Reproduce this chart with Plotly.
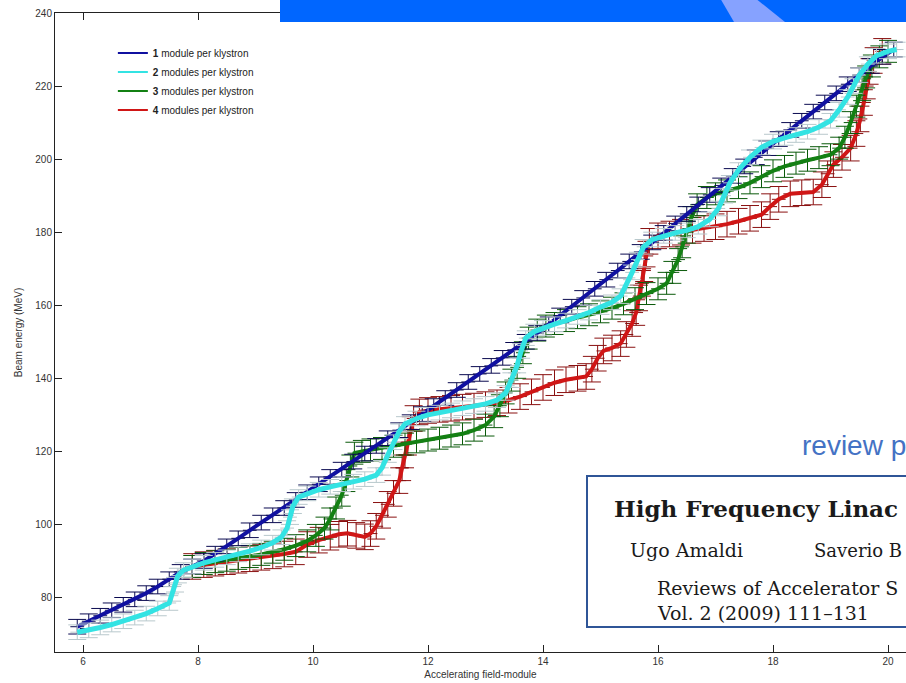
import plotly.graph_objects as go

# ---------------- data ----------------
x_1mod = [5.9, 6.1, 6.3, 6.5, 6.7, 6.9, 7.1, 7.3, 7.5, 7.7, 7.9, 8.1, 8.3, 8.5, 8.7, 8.9,
          9.1, 9.3, 9.5, 9.7, 9.9, 10.1, 10.3, 10.5, 10.7, 10.9, 11.1, 11.3, 11.5, 11.7,
          11.9, 12.1, 12.3, 12.5, 12.7, 12.9, 13.1, 13.3, 13.5, 13.7, 13.9, 14.1, 14.3,
          14.5, 14.7, 14.9, 15.1, 15.3, 15.5, 15.7, 15.9, 16.1, 16.3, 16.5, 16.7, 16.9,
          17.1, 17.3, 17.5, 17.7, 17.9, 18.1, 18.3, 18.5, 18.7, 18.9, 19.1, 19.3, 19.5,
          19.7, 19.9, 20.1]
y_1mod = [72, 73.5, 75, 76.5, 78, 79.5, 81.2, 83, 85, 87, 88.5, 90, 92, 94, 96.2, 98.4,
          100.5, 102.5, 104.5, 106.7, 108.8, 111, 113, 115, 117.2, 119.4, 121.5, 123.6,
          125.8, 128, 130.2, 132.4, 134.6, 136.8, 139, 141.2, 143.4, 145.6, 147.8, 150,
          152.4, 154.8, 157.2, 159.6, 162, 164.5, 167, 169.5, 172, 174.6, 177.2, 179.8,
          182.4, 185, 187.6, 190.2, 192.8, 195.4, 198, 200.5, 203, 205.5, 208, 210.5,
          213, 215.5, 218, 220.5, 223, 225.5, 228, 230]

x_2mod = [5.9, 6.1, 6.3, 6.5, 6.7, 6.9, 7.1, 7.3, 7.5, 7.55, 7.6, 7.65, 7.75, 7.9, 8.1,
          8.3, 8.5, 8.7, 8.9, 9.1, 9.3, 9.45, 9.55, 9.6, 9.65, 9.75, 9.9, 10.1, 10.3,
          10.5, 10.7, 10.9, 11.1, 11.2, 11.3, 11.4, 11.5, 11.6, 11.8, 12.0, 12.2, 12.4,
          12.6, 12.8, 13.0, 13.2, 13.35, 13.45, 13.55, 13.62, 13.7, 13.85, 14.0, 14.2,
          14.4, 14.6, 14.8, 15.0, 15.2, 15.35, 15.45, 15.55, 15.65, 15.75, 15.9, 16.1,
          16.3, 16.5, 16.7, 16.9, 17.05, 17.15, 17.25, 17.4, 17.6, 17.8, 18.0, 18.2,
          18.4, 18.6, 18.8, 19.0, 19.15, 19.3, 19.4, 19.5, 19.65, 19.8, 20.0, 20.15]
y_2mod = [70.5, 71, 71.8, 72.6, 73.5, 74.5, 75.6, 77, 78.5, 81, 83.5, 86, 87.5, 88.5,
          89.5, 90.3, 91, 91.8, 92.7, 93.7, 95, 96.5, 99, 102, 105, 107.5, 108.5, 109.5,
          110.3, 111, 111.7, 112.4, 113.5, 115.5, 119, 122.5, 125.5, 127.5, 129, 130,
          130.6, 131.2, 131.8, 132.4, 133, 134, 136, 139.5, 143.5, 147.5, 151, 152.8,
          153.8, 154.8, 155.8, 156.8, 158, 159.5, 160.8, 162.5, 165.5, 169, 172.5, 176,
          178, 179, 179.8, 180.5, 181.5, 183.5, 186.5, 190, 193.5, 197, 200.5, 203.2,
          204.8, 205.8, 206.6, 207.5, 208.8, 210.5, 213.5, 217, 220, 223, 226, 228.3,
          229.5, 230]

x_3mod = [7.9, 8.1, 8.3, 8.5, 8.7, 8.9, 9.1, 9.3, 9.5, 9.7, 9.9, 10.05, 10.2, 10.3, 10.4,
          10.5, 10.58, 10.65, 10.72, 10.85, 11.0, 11.2, 11.4, 11.6, 11.8, 12.0, 12.2,
          12.4, 12.6, 12.8, 13.0, 13.15, 13.25, 13.35, 13.45, 13.55, 13.65, 13.75, 13.9,
          14.05, 14.2, 14.4, 14.6, 14.8, 15.0, 15.2, 15.4, 15.6, 15.8, 16.0, 16.15,
          16.25, 16.35, 16.42, 16.5, 16.58, 16.68, 16.85, 17.0, 17.2, 17.4, 17.6, 17.8,
          18.0, 18.2, 18.4, 18.6, 18.8, 19.0, 19.15, 19.25, 19.35, 19.45, 19.55, 19.62,
          19.72, 19.85, 20.0]
y_3mod = [88.5, 89.3, 89.8, 90.2, 90.7, 91.2, 91.8, 92.4, 93.2, 94.2, 95.5, 97, 99,
          101.5, 104.5, 108, 112, 116, 119.5, 120, 120.4, 120.8, 121.4, 122, 122.6,
          123.1, 123.6, 124.2, 124.8, 125.8, 127.2, 129.5, 132.5, 136, 139.5, 143, 147,
          151, 153.2, 154.3, 155, 155.8, 156.6, 157.4, 158.2, 159.2, 160.4, 161.8, 163.2,
          164.5, 166, 169, 172.5, 176, 180, 184, 187.5, 189.5, 190.5, 191.3, 192.2,
          193.5, 195.2, 196.8, 198, 198.9, 199.7, 200.4, 201.2, 203, 206, 210, 214.5,
          219, 222.5, 225.5, 228, 229.5]

x_4mod = [7.9, 8.1, 8.3, 8.5, 8.7, 8.9, 9.1, 9.3, 9.5, 9.7, 9.9, 10.1, 10.3, 10.45, 10.6,
          10.75, 10.9, 11.0, 11.1, 11.2, 11.3, 11.4, 11.5, 11.55, 11.6, 11.65, 11.7,
          11.75, 11.85, 12.0, 12.2, 12.4, 12.6, 12.8, 13.0, 13.2, 13.4, 13.6, 13.8, 14.0,
          14.2, 14.4, 14.6, 14.75, 14.85, 14.95, 15.05, 15.2, 15.35, 15.45, 15.55, 15.62,
          15.67, 15.72, 15.76, 15.8, 15.85, 16.0, 16.2, 16.4, 16.6, 16.8, 17.0, 17.2,
          17.4, 17.6, 17.8, 17.95, 18.1, 18.3, 18.5, 18.7, 18.85, 18.95, 19.05, 19.2,
          19.35, 19.45, 19.52, 19.58, 19.63, 19.68, 19.75, 19.9]
y_4mod = [88.5, 89, 89.4, 89.8, 90.2, 90.6, 91, 91.4, 91.9, 92.5, 94.5, 95.7, 96.5,
          97.3, 97.6, 97, 96.6, 97.5, 99.5, 102.5, 105.5, 108.5, 112, 115.5, 119, 122.5,
          126, 129, 130.8, 131.2, 131.5, 131.8, 132.1, 132.4, 132.8, 133.3, 134, 135,
          136.3, 137.5, 138.8, 139.6, 140, 140.5, 142.5, 145.5, 147.5, 148.3, 149.5, 152,
          155, 158, 162, 166, 170, 174, 177.5, 179, 179.5, 180, 180.5, 181, 181.5, 182.2,
          183, 183.8, 184.8, 187, 189, 190.5, 190.8, 191, 193, 196, 198.5, 200.5, 203,
          207, 211, 215.5, 220, 224, 227, 229.5]

series_names = ["<b>1</b> module per klystron", "<b>2</b> modules per klystron",
                "<b>3</b> modules per klystron", "<b>4</b> modules per klystron"]

x_ticks = [6, 8, 10, 12, 14, 16, 18, 20]
y_ticks = [80, 100, 120, 140, 160, 180, 200, 220, 240]

# ---------------- styles ----------------
line_cols = ["#1010a0", "#33e3e3", "#138013", "#d01616"]
err_cols = ["#0a0a50", "#b8c8cc", "#0a5a0a", "#8a1010"]
err_vals = [2.0, 2.0, 3.0, 3.5]
line_w = [4, 5, 4, 4]

fig = go.Figure()

data = [(x_1mod, y_1mod), (x_2mod, y_2mod), (x_3mod, y_3mod), (x_4mod, y_4mod)]
order = [3, 2, 0, 1]  # drawing order (cyan last, on top)
for i in order:
    xs, ys = data[i]
    fig.add_trace(go.Scatter(
        x=xs, y=ys, mode="lines", showlegend=False,
        line=dict(color=line_cols[i], width=line_w[i]),
        error_y=dict(type="constant", value=err_vals[i], color=err_cols[i],
                     thickness=1, width=9),
        error_x=dict(type="constant", value=0.12, color=err_cols[i],
                     thickness=1, width=0),
    ))

# legend entries (thin lines)
for i in range(4):
    fig.add_trace(go.Scatter(x=[None], y=[None], mode="lines", name=series_names[i],
                             line=dict(color=line_cols[i], width=2)))

axis_font = dict(family="Liberation Sans, Arial, sans-serif", size=10, color="#333333")

fig.update_layout(
    width=906, height=683,
    margin=dict(l=55, r=0, t=13, b=31),
    paper_bgcolor="white", plot_bgcolor="white",
    showlegend=True,
    legend=dict(x=0.068, y=0.96, xanchor="left", yanchor="top",
                bgcolor="rgba(0,0,0,0)", borderwidth=0,
                font=dict(family="Liberation Sans, Arial, sans-serif", size=10, color="#222"),
                itemwidth=30, tracegroupgap=0),
    xaxis=dict(range=[5.513, 20.313], tickvals=x_ticks, ticktext=[str(v) for v in x_ticks],
               showgrid=False, zeroline=False, showline=True, linecolor="#222",
               linewidth=1, mirror="ticks", ticks="inside", ticklen=7, tickcolor="#222",
               tickfont=axis_font,
               title=dict(text="Accelerating field-module", font=axis_font, standoff=4)),
    yaxis=dict(range=[65.08, 240], tickvals=y_ticks, ticktext=[str(v) for v in y_ticks],
               showgrid=False, zeroline=False, showline=True, linecolor="#222",
               linewidth=1, ticks="inside", ticklen=7, tickcolor="#222",
               tickfont=axis_font,
               title=dict(text="Beam energy (MeV)", font=axis_font, standoff=10)),
)

# ---------------- overlays from the slide ----------------
def px_x(p):
    return (p - 55) / 851.0

def px_y(p):
    return (652 - p) / 639.0

# blue banner
fig.add_shape(type="rect", xref="paper", yref="paper",
              x0=px_x(280), x1=px_x(910), y0=px_y(22), y1=px_y(-2),
              fillcolor="#0066ff", line=dict(width=0), layer="above")
fig.add_shape(type="path", xref="paper", yref="paper",
              path=f"M {px_x(720)},{px_y(-2)} L {px_x(755)},{px_y(-2)} L {px_x(785)},{px_y(22)} L {px_x(734)},{px_y(22)} Z",
              fillcolor="#86a2ff", line=dict(width=0), layer="above")

# "review p" text
fig.add_annotation(xref="paper", yref="paper", x=px_x(800), y=px_y(445),
                   xanchor="left", yanchor="middle", showarrow=False,
                   text="review p", font=dict(family="Liberation Sans, Arial, sans-serif",
                                              size=28, color="#4472c4"))

# paper reference box
fig.add_shape(type="rect", xref="paper", yref="paper",
              x0=px_x(587), x1=px_x(912), y0=px_y(627), y1=px_y(476),
              fillcolor="white", line=dict(color="#2f5597", width=2), layer="above")
serif = "DejaVu Serif, Liberation Serif, serif"
fig.add_annotation(xref="paper", yref="paper", x=px_x(612), y=px_y(508),
                   xanchor="left", yanchor="middle", showarrow=False,
                   text="<b>High Frequency Linac</b>",
                   font=dict(family=serif, size=23, color="#1a1a1a"))
fig.add_annotation(xref="paper", yref="paper", x=px_x(628), y=px_y(550),
                   xanchor="left", yanchor="middle", showarrow=False,
                   text="Ugo Amaldi", font=dict(family=serif, size=19, color="#1a1a1a"))
fig.add_annotation(xref="paper", yref="paper", x=px_x(812), y=px_y(550),
                   xanchor="left", yanchor="middle", showarrow=False,
                   text="Saverio B", font=dict(family=serif, size=18, color="#1a1a1a"))
fig.add_annotation(xref="paper", yref="paper", x=px_x(655), y=px_y(588),
                   xanchor="left", yanchor="middle", showarrow=False,
                   text="Reviews of Accelerator S", font=dict(family=serif, size=19, color="#1a1a1a"))
fig.add_annotation(xref="paper", yref="paper", x=px_x(655), y=px_y(613),
                   xanchor="left", yanchor="middle", showarrow=False,
                   text="Vol. 2 (2009) 111–131", font=dict(family=serif, size=19, color="#1a1a1a"))

fig.write_html("out.html", config={"displayModeBar": False},
               post_script="document.body.style.margin='0';document.body.style.overflow='hidden';")
